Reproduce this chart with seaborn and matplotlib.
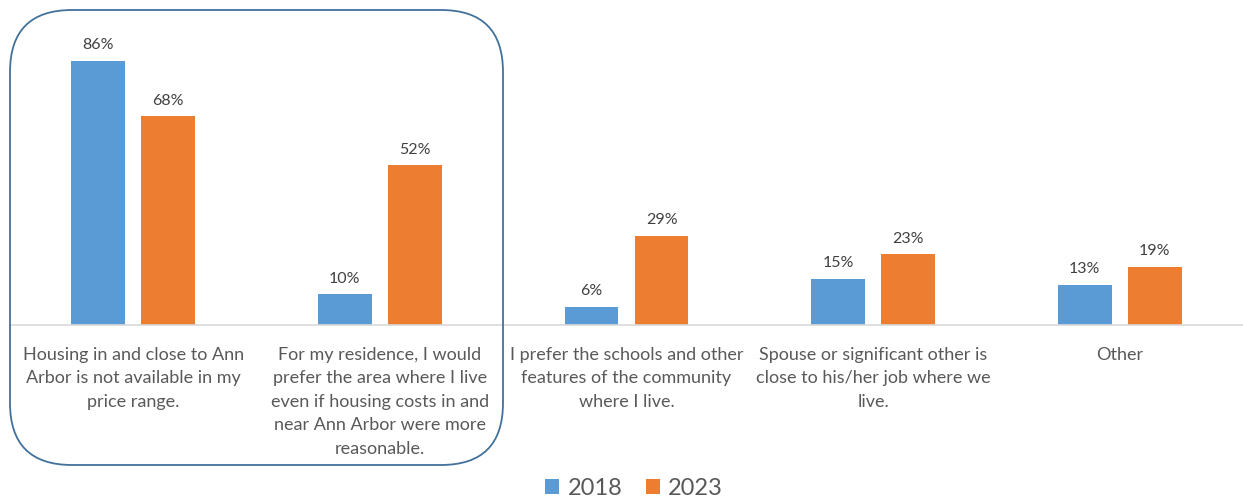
import matplotlib
matplotlib.use("Agg")
import matplotlib.pyplot as plt
from matplotlib.patches import FancyBboxPatch, Patch
import seaborn as sns
import pandas as pd

reasons = [
    "Housing in and close to Ann\nArbor is not available in my\nprice range.",
    "For my residence, I would\nprefer the area where I live\neven if housing costs in and\nnear Ann Arbor were more\nreasonable.",
    "I prefer the schools and other\nfeatures of the community\nwhere I live.",
    "Spouse or significant other is\nclose to his/her job where we\nlive.",
    "Other",
]
years = ["2018", "2023"]
pct_2018 = [86, 10, 6, 15, 13]
pct_2023 = [68, 52, 29, 23, 19]
colors = ["#5B9BD5", "#ED7D31"]

df = pd.DataFrame({
    "reason": reasons * 2,
    "year": [years[0]] * len(reasons) + [years[1]] * len(reasons),
    "pct": pct_2018 + pct_2023,
})

sns.set_theme(style="white")
plt.rcParams["font.family"] = ["Lato", "DejaVu Sans"]

W, H = 1243, 502
fig = plt.figure(figsize=(W / 100, H / 100), dpi=100)
ax = fig.add_axes([10 / W, 1 - 326 / H, 1233 / W, (326 - 19) / H])

sns.barplot(data=df, x="reason", y="pct", hue="year", hue_order=years,
            palette=colors, width=0.568, gap=0.23, saturation=1,
            legend=False, ax=ax, linewidth=0)

ax.set_xlim(-0.5, 4.5)
ax.set_ylim(0, 100)
for c in ax.containers:
    ax.bar_label(c, labels=[f"{v:.0f}%" for v in c.datavalues], padding=7,
                 fontsize=11.5, color="#404040")

ax.set_xlabel("")
ax.set_ylabel("")
ax.set_yticks([])
ax.tick_params(axis="x", length=0, pad=15, labelsize=13, labelcolor="#595959")
for lbl in ax.get_xticklabels():
    lbl.set_multialignment("center")
    lbl.set_linespacing(1.58)
for side in ["top", "left", "right"]:
    ax.spines[side].set_visible(False)
ax.spines["bottom"].set_color("#D9D9D9")
ax.spines["bottom"].set_linewidth(1.2)

# Highlight frame around the first two reasons (pixel coordinates)
over = fig.add_axes([0, 0, 1, 1], facecolor="none")
over.set_xlim(0, W)
over.set_ylim(H, 0)
over.axis("off")
over.add_patch(FancyBboxPatch((10, 11), 493, 455,
                              boxstyle="round,pad=0,rounding_size=62",
                              fill=False, edgecolor="#41719C", linewidth=1.3))

handles = [Patch(facecolor=c, edgecolor="none") for c in colors]
fig.legend(handles, years, loc="center", bbox_to_anchor=(634 / W, 1 - 489 / H),
           ncol=2, frameon=False, fontsize=17, handlelength=0.6,
           handleheight=0.6, handletextpad=0.35, columnspacing=1.0,
           labelcolor="#595959")

fig.savefig("out.png", dpi=100)
